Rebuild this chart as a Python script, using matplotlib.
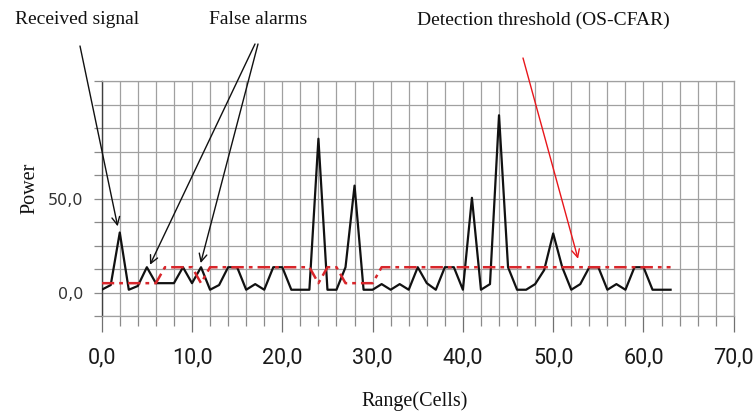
import numpy as np
import matplotlib
matplotlib.use("Agg")
import matplotlib.pyplot as plt
from matplotlib.ticker import MultipleLocator, FixedLocator, FuncFormatter

# ---- data ----
cells = list(range(64))
signal = [1.5, 4, 32, 1.5, 3.5, 13.5, 5, 5, 5, 13.5,
          5, 13.5, 1.5, 4, 13.5, 13.5, 1.5, 4.5, 1.5, 13.5,
          13.5, 1.5, 1.5, 1.5, 82, 1.5, 1.5, 13.5, 57, 1.5,
          1.5, 4.5, 1.5, 4.5, 1.5, 13.5, 5, 1.5, 13.5, 13.5,
          1.5, 50.5, 1.5, 4.5, 94.5, 13.5, 1.5, 1.5, 4.5, 12,
          31.5, 13.5, 1.5, 4.5, 13.5, 13.5, 1.5, 4.5, 1.5, 13.5,
          13.5, 1.5, 1.5, 1.5]
threshold = [5, 5, 5, 5, 5, 5, 5, 13.5, 13.5, 13.5,
             13.5, 5, 13.5, 13.5, 13.5, 13.5, 13.5, 13.5, 13.5, 13.5,
             13.5, 13.5, 13.5, 13.5, 5, 13.5, 13.5, 5, 5, 5,
             5, 13.5, 13.5, 13.5, 13.5, 13.5, 13.5, 13.5, 13.5, 13.5,
             13.5, 13.5, 13.5, 13.5, 13.5, 13.5, 13.5, 13.5, 13.5, 13.5,
             13.5, 13.5, 13.5, 13.5, 13.5, 13.5, 13.5, 13.5, 13.5, 13.5,
             13.5, 13.5, 13.5, 13.5]
x_ticks = [0, 10, 20, 30, 40, 50, 60, 70]
y_ticks = [0, 50]

# annotation targets (data coords)
received_tip = (1.77, 35.3)
false_tips = [(5.35, 14.8), (10.96, 15.7)]
thresh_tip = (52.75, 18.0)

W, H = 755, 415
fig = plt.figure(figsize=(W / 100, H / 100), dpi=100)
ax = fig.add_axes([101.7 / W, 1 - 316 / H, (733.8 - 101.7) / W, (316 - 81.5) / H])

ax.set_xlim(0, 70)
ax.set_ylim(-12.5, 112.5)

grid_c = "#a0a0a0"
ax.xaxis.set_major_locator(FixedLocator(x_ticks))
ax.xaxis.set_minor_locator(MultipleLocator(2))
ax.yaxis.set_major_locator(FixedLocator(y_ticks))
ax.yaxis.set_minor_locator(MultipleLocator(12.5))
ax.grid(True, which="both", color=grid_c, linewidth=0.9)
ax.set_axisbelow(True)

fmt = FuncFormatter(lambda v, p: f"{v:.1f}".replace(".", ","))
ax.xaxis.set_major_formatter(fmt)
ax.yaxis.set_major_formatter(fmt)

ax.tick_params(axis="x", which="major", direction="out", length=11.5, width=0.9,
               color="#707070", pad=11, labelsize=15.5, labelcolor="#1a1a1a")
ax.tick_params(axis="x", which="minor", direction="out", length=7.5, width=0.9,
               color="#8a8a8a")
ax.tick_params(axis="y", which="both", direction="out", length=5.5, width=0.9,
               color="#8a8a8a", pad=7.5, labelsize=11.5, labelcolor="#333333")
for lab in ax.get_xticklabels():
    lab.set_fontfamily(["Roboto", "DejaVu Sans"])
for lab in ax.get_yticklabels():
    lab.set_fontfamily(["DejaVu Sans"])

for s in ["top", "right", "bottom"]:
    ax.spines[s].set_color(grid_c)
    ax.spines[s].set_linewidth(0.9)
ax.spines["left"].set_color("#404040")
ax.spines["left"].set_linewidth(1.0)

ax.plot(cells, signal, color="#111111", linewidth=1.6, zorder=3)
ax.plot(cells, threshold, color="#d8262b", linewidth=1.8,
        linestyle=(0, (5, 2, 1.5, 2)), zorder=4)

serif = ["Liberation Serif", "DejaVu Serif"]
ax.set_xlabel("Range(Cells)", fontfamily=serif, fontsize=14.5, color="#111111")
ax.set_ylabel("Power", fontfamily=serif, fontsize=14.5, color="#111111")
ax.xaxis.set_label_coords((415 - 101.7) / (733.8 - 101.7), -(391 - 316) / (316 - 81.5))
ax.yaxis.set_label_coords(-(101.7 - 39) / (733.8 - 101.7), (316 - 188) / (316 - 81.5))


def fp(px, py):
    return (px / W, 1 - py / H)


fig.text(*fp(77, 20), "Received signal", fontfamily=serif, fontsize=14,
         ha="center", va="center", color="#111111")
fig.text(*fp(258, 20), "False alarms", fontfamily=serif, fontsize=14,
         ha="center", va="center", color="#111111")
fig.text(*fp(543, 20), "Detection threshold (OS-CFAR)", fontfamily=serif, fontsize=14,
         ha="center", va="center", color="#111111")

arrow_k = dict(arrowstyle="->", color="#111111", lw=1.0, mutation_scale=14,
               shrinkA=0, shrinkB=0)
ax.annotate("", xy=received_tip, xycoords="data", xytext=fp(80, 46),
            textcoords="figure fraction", arrowprops=arrow_k, annotation_clip=False)
ax.annotate("", xy=false_tips[0], xycoords="data", xytext=fp(255, 44),
            textcoords="figure fraction", arrowprops=arrow_k, annotation_clip=False)
ax.annotate("", xy=false_tips[1], xycoords="data", xytext=fp(258, 44),
            textcoords="figure fraction", arrowprops=arrow_k, annotation_clip=False)
red_k = dict(arrow_k, color="#e8161b")
ax.annotate("", xy=thresh_tip, xycoords="data", xytext=fp(523, 58),
            textcoords="figure fraction", arrowprops=red_k, annotation_clip=False)

fig.savefig("out.png", dpi=100)
